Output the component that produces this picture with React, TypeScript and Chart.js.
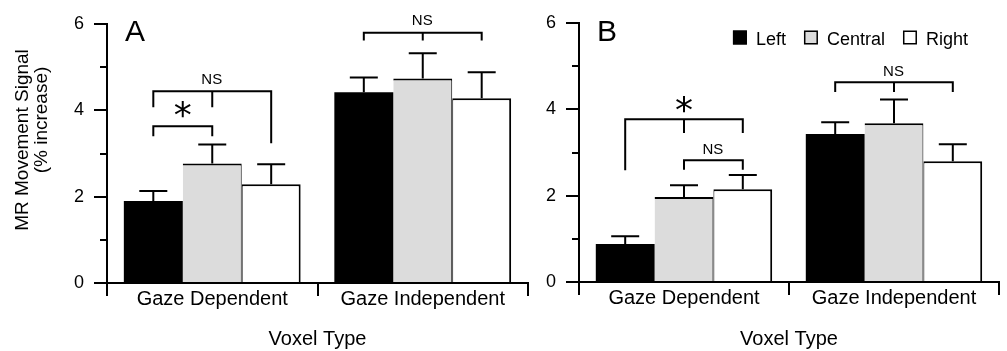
import React, { useEffect, useRef } from 'react';
import { Chart, registerables } from 'chart.js';

Chart.register(...registerables);

const FONT = "'Liberation Sans', Arial, Helvetica, sans-serif";

const categories = ['Gaze Dependent', 'Gaze Independent'];
const seriesNames = ['Left', 'Central', 'Right'];
const seriesColors = ['#000000', '#dcdcdc', '#ffffff'];
const yTickLabels = [0, 2, 4, 6];
const yTitle = ['MR Movement Signal', '(% increase)'];
const xTitle = 'Voxel Type';

// Panel A values (bar height) and upper error (SEM)
const panelALeft = [1.9, 4.42];
const panelACentral = [2.77, 4.74];
const panelARight = [2.29, 4.28];
const panelAErrLeft = [0.23, 0.34];
const panelAErrCentral = [0.44, 0.58];
const panelAErrRight = [0.46, 0.6];

// Panel B values and upper error
const panelBLeft = [0.88, 3.43];
const panelBCentral = [1.97, 3.68];
const panelBRight = [2.15, 2.8];
const panelBErrLeft = [0.18, 0.27];
const panelBErrCentral = [0.27, 0.55];
const panelBErrRight = [0.33, 0.39];

// Significance brackets (values in data units)
type Bracket = {
  cat: number;
  from: number;
  to: number;
  mid: number;
  y: number;
  ends: number[];
  label: string;
  labelY: number;
};

const panelABrackets: Bracket[] = [
  { cat: 0, from: 0, to: 2, mid: 1, y: 4.44, ends: [4.07, 4.07, 3.24], label: 'NS', labelY: 4.73 },
  { cat: 0, from: 0, to: 1, mid: -1, y: 3.63, ends: [3.4, 0, 3.4], label: '*', labelY: 4.01 },
  { cat: 1, from: 0, to: 2, mid: 1, y: 5.8, ends: [5.62, 5.62, 5.62], label: 'NS', labelY: 6.09 },
];

const panelBBrackets: Bracket[] = [
  { cat: 0, from: 0, to: 2, mid: 1, y: 3.77, ends: [2.59, 3.45, 3.45], label: '*', labelY: 4.12 },
  { cat: 0, from: 1, to: 2, mid: -1, y: 2.82, ends: [2.6, 0, 2.6], label: 'NS', labelY: 3.09 },
  { cat: 1, from: 0, to: 2, mid: 1, y: 4.63, ends: [4.4, 4.4, 4.4], label: 'NS', labelY: 4.88 },
];

type PanelSpec = {
  letter: string;
  values: number[][];
  errors: number[][];
  brackets: Bracket[];
  showYTitle: boolean;
  showLegend: boolean;
  padLeft: number;
  yWidth: number;
  padRight: number;
  padTop: number;
  xHeight: number;
};

const drawCenteredText = (ctx: CanvasRenderingContext2D, text: string, cx: number, cy: number) => {
  ctx.textAlign = 'left';
  ctx.textBaseline = 'alphabetic';
  const m = ctx.measureText(text);
  const x = cx - (m.actualBoundingBoxRight - m.actualBoundingBoxLeft) / 2;
  const y = cy + (m.actualBoundingBoxAscent - m.actualBoundingBoxDescent) / 2;
  ctx.fillText(text, x, y);
};

const annotationPlugin = {
  id: 'panelExtras',
  afterDraw(chart: any, _args: any, opts: any) {
    const ctx: CanvasRenderingContext2D = chart.ctx;
    const ys = chart.scales.y;
    const area = chart.chartArea;
    ctx.save();
    ctx.strokeStyle = '#000';
    ctx.fillStyle = '#000';
    ctx.lineWidth = 2;
    ctx.lineCap = 'butt';

    // minor y ticks
    for (let v = 1; v < 6; v += 2) {
      const py = Math.round(ys.getPixelForValue(v));
      ctx.beginPath();
      ctx.moveTo(area.left - 7, py);
      ctx.lineTo(area.left, py);
      ctx.stroke();
    }

    // error bars
    const errors: number[][] = opts.errors;
    chart.data.datasets.forEach((ds: any, i: number) => {
      const meta = chart.getDatasetMeta(i);
      meta.data.forEach((bar: any, j: number) => {
        const top = ys.getPixelForValue(ds.data[j] + errors[i][j]);
        ctx.beginPath();
        ctx.moveTo(bar.x, bar.y);
        ctx.lineTo(bar.x, top);
        ctx.moveTo(bar.x - 14, top);
        ctx.lineTo(bar.x + 14, top);
        ctx.stroke();
      });
    });

    // brackets
    const brackets: Bracket[] = opts.brackets;
    brackets.forEach((b) => {
      const x1 = chart.getDatasetMeta(b.from).data[b.cat].x;
      const x2 = chart.getDatasetMeta(b.to).data[b.cat].x;
      const py = ys.getPixelForValue(b.y);
      ctx.lineWidth = 2;
      ctx.beginPath();
      ctx.moveTo(x1, ys.getPixelForValue(b.ends[0]));
      ctx.lineTo(x1, py);
      ctx.lineTo(x2, py);
      ctx.lineTo(x2, ys.getPixelForValue(b.ends[2]));
      if (b.mid >= 0) {
        const xm = chart.getDatasetMeta(b.mid).data[b.cat].x;
        ctx.moveTo(xm, py);
        ctx.lineTo(xm, ys.getPixelForValue(b.ends[1]));
      }
      ctx.stroke();
      const cx = b.mid >= 0 ? chart.getDatasetMeta(b.mid).data[b.cat].x : (x1 + x2) / 2;
      if (b.label === '*') {
        ctx.font = `36px 'DejaVu Sans', sans-serif`;
      } else {
        ctx.font = `15px ${FONT}`;
      }
      drawCenteredText(ctx, b.label, cx, ys.getPixelForValue(b.labelY));
    });

    // y-axis title (two rotated lines)
    if (opts.showYTitle) {
      ctx.font = `19px ${FONT}`;
      ctx.textAlign = 'center';
      ctx.textBaseline = 'middle';
      const centers = [
        [23, 140],
        [42, 120],
      ];
      opts.yTitle.forEach((line: string, i: number) => {
        ctx.save();
        ctx.translate(centers[i][0], centers[i][1]);
        ctx.rotate(-Math.PI / 2);
        ctx.fillText(line, 0, 0);
        ctx.restore();
      });
    }

    // panel letter
    ctx.font = `30px ${FONT}`;
    ctx.textAlign = 'left';
    ctx.textBaseline = 'alphabetic';
    ctx.fillText(opts.letter, area.left + 18, 40.5);

    // legend
    if (opts.showLegend) {
      ctx.font = `18px ${FONT}`;
      const box = 14;
      const boxGap = 9;
      const itemGap = 18;
      const dsList = chart.data.datasets;
      let total = 0;
      dsList.forEach((ds: any, i: number) => {
        total += box + boxGap + ctx.measureText(ds.label).width;
        if (i < dsList.length - 1) total += itemGap;
      });
      let x = area.right - 31 - total;
      const boxTop = 30.5;
      dsList.forEach((ds: any) => {
        ctx.fillStyle = ds.backgroundColor;
        ctx.fillRect(x, boxTop, box, box);
        ctx.lineWidth = 1.5;
        ctx.strokeStyle = '#000';
        ctx.strokeRect(x + 0.75, boxTop + 0.75, box - 1.5, box - 1.5);
        ctx.fillStyle = '#000';
        ctx.textBaseline = 'alphabetic';
        ctx.fillText(ds.label, x + box + boxGap, boxTop + box);
        x += box + boxGap + ctx.measureText(ds.label).width + itemGap;
      });
    }
    ctx.restore();
  },
};

const borderWidths = [
  0,
  { top: 2, left: 0, right: 1, bottom: 0 },
  { top: 2, left: 1, right: 2, bottom: 0 },
];

const makeConfig = (p: PanelSpec): any => ({
  type: 'bar',
  data: {
    labels: categories,
    datasets: seriesNames.map((name, i) => ({
      label: name,
      data: p.values[i],
      backgroundColor: seriesColors[i],
      borderColor: '#000000',
      borderWidth: borderWidths[i],
      borderSkipped: 'start',
      categoryPercentage: 0.84,
      barPercentage: 1.0,
    })),
  },
  options: {
    responsive: false,
    animation: false,
    events: [],
    layout: {
      padding: { left: p.padLeft, right: p.padRight, top: p.padTop, bottom: 0 },
    },
    plugins: {
      legend: { display: false },
      tooltip: { enabled: false },
      title: { display: false },
      panelExtras: {
        errors: p.errors,
        brackets: p.brackets,
        letter: p.letter,
        showLegend: p.showLegend,
        showYTitle: p.showYTitle,
        yTitle: yTitle,
      },
    },
    scales: {
      x: {
        offset: true,
        afterFit: (s: any) => {
          s.height = p.xHeight;
        },
        border: { display: true, color: '#000', width: 2 },
        grid: {
          offset: true,
          drawOnChartArea: false,
          drawTicks: true,
          tickLength: 13,
          lineWidth: 2,
          color: '#000',
        },
        ticks: {
          color: '#000',
          padding: -9,
          maxRotation: 0,
          font: { family: FONT, size: 20 },
        },
        title: {
          display: true,
          text: xTitle,
          color: '#000',
          padding: { top: 0, bottom: 0 },
          font: { family: FONT, size: 20 },
        },
      },
      y: {
        min: 0,
        max: 6,
        afterFit: (s: any) => {
          s.width = p.yWidth;
        },
        border: { display: true, color: '#000', width: 2 },
        grid: {
          drawOnChartArea: false,
          drawTicks: true,
          tickLength: 13,
          lineWidth: 2,
          color: (c: any) =>
            c.tick && yTickLabels.includes(c.tick.value) ? '#000' : 'rgba(0,0,0,0)',
        },
        ticks: {
          stepSize: 1,
          padding: 10,
          color: '#000',
          font: { family: FONT, size: 18 },
          callback: (v: any) => (yTickLabels.includes(v) ? String(v) : ''),
        },
        title: { display: false },
      },
    },
  },
  plugins: [annotationPlugin],
});

const panelA: PanelSpec = {
  letter: 'A',
  values: [panelALeft, panelACentral, panelARight],
  errors: [panelAErrLeft, panelAErrCentral, panelAErrRight],
  brackets: panelABrackets,
  showYTitle: true,
  showLegend: false,
  padLeft: 13,
  yWidth: 94,
  padRight: 12,
  padTop: 24,
  xHeight: 68,
};

const panelB: PanelSpec = {
  letter: 'B',
  values: [panelBLeft, panelBCentral, panelBRight],
  errors: [panelBErrLeft, panelBErrCentral, panelBErrRight],
  brackets: panelBBrackets,
  showYTitle: false,
  showLegend: true,
  padLeft: 0,
  yWidth: 59,
  padRight: 8,
  padTop: 23,
  xHeight: 69,
};

function Panel({ spec, left, width }: { spec: PanelSpec; left: number; width: number }) {
  const ref = useRef<HTMLCanvasElement | null>(null);
  useEffect(() => {
    if (!ref.current) return;
    const chart = new Chart(ref.current, makeConfig(spec));
    return () => chart.destroy();
  }, [spec]);
  return (
    <canvas
      ref={ref}
      width={width}
      height={351}
      style={{ position: 'absolute', left, top: 0, width, height: 351 }}
    />
  );
}

export default function App() {
  return (
    <div
      style={{
        position: 'absolute',
        left: 0,
        top: 0,
        width: 1007,
        height: 351,
        background: '#ffffff',
        overflow: 'hidden',
      }}
    >
      <Panel spec={panelA} left={0} width={540} />
      <Panel spec={panelB} left={520} width={487} />
    </div>
  );
}
